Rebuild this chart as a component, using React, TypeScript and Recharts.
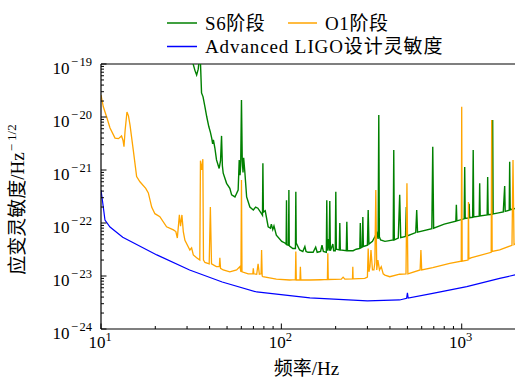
import React from 'react';
import { LineChart, Line, XAxis, YAxis, Legend, ReferenceLine } from 'recharts';

const FONT = '"Liberation Serif", "Noto Sans CJK SC", serif';

// [frequency Hz, strain ASD 1/sqrt(Hz)]
const s6Series: [number, number][] = [
  [30, 3.0e-19], [32.3, 1.05e-19], [33.2, 7.5e-20], [33.9, 6.2e-20], [34.6, 8.0e-20],
  [35.2, 1.4e-19], [35.5, 1.4e-19], [36.1, 2.84e-20], [36.8, 2.4e-20], [37.7, 1.56e-20],
  [38.6, 1.0e-20], [39.6, 6.6e-21], [40.4, 5.2e-21], [41.1, 4.0e-21], [41.6, 3.1e-21],
  [42.0, 3.7e-21], [42.8, 2.6e-21], [43.7, 1.55e-21], [45.2, 1.07e-21], [46.0, 1.5e-21],
  [46.6, 4.4e-21], [47.1, 1.2e-21], [47.6, 8.7e-22], [49.7, 5.6e-22], [51.8, 4.5e-22],
  [53.0, 3.4e-22], [55.3, 3.1e-22], [57.6, 4.2e-22], [58.4, 1.55e-21], [59.0, 8.0e-22],
  [59.5, 1.2e-21], [60.1, 2.1e-20], [60.7, 1.55e-21], [61.3, 9.0e-22], [61.8, 1.7e-21],
  [62.8, 8.8e-22], [64.2, 3.1e-22], [66.9, 2.0e-22], [69.9, 1.76e-22], [72.0, 2.0e-22],
  [74.1, 1.9e-22], [77.6, 1.5e-22], [78.6, 1.4e-22], [79.0, 1.34e-21], [79.5, 1.6e-22],
  [81.4, 1.7e-22], [84.5, 8.5e-23], [87.0, 8.0e-23], [88.0, 9.5e-23], [89.6, 7.5e-23],
  [91.0, 8.8e-23], [93.8, 5.9e-23], [100.5, 4.5e-23], [104.6, 4.2e-23], [106.3, 4.0e-23],
  [106.8, 2.7e-22], [107.3, 3.9e-23], [109.6, 3.8e-23], [110.1, 4.2e-22], [110.6, 3.7e-23],
  [115.8, 3.3e-23], [119.7, 3.3e-23], [120.3, 3.9e-22], [120.9, 4.2e-23], [126.3, 3.1e-23],
  [131.5, 2.9e-23], [135, 3.6e-23], [137, 2.9e-23], [140.6, 2.8e-23], [150, 2.8e-23],
  [155, 3.5e-23], [158, 2.8e-23], [165, 2.9e-23], [168, 3.8e-23], [171, 2.9e-23],
  [177.5, 2.8e-23], [178.6, 2.7e-22], [179.7, 3.0e-23], [182, 5.0e-23], [184, 3.0e-23],
  [185.6, 2.6e-22], [187, 3.0e-23], [193, 4.0e-23], [195, 3.0e-23], [199, 3.0e-23],
  [200.4, 3.9e-22], [201.8, 3.2e-23], [209.5, 3.1e-23], [210.9, 1.0e-22], [212.3, 3.1e-23],
  [229, 3.0e-23], [230.7, 1.05e-22], [232.5, 3.0e-23], [250, 3.0e-23], [260, 3.2e-23],
  [272.3, 3.3e-23], [274, 1.0e-22], [276, 3.4e-23], [281, 3.5e-23], [283, 1.3e-22],
  [285, 3.6e-23], [300, 3.8e-23], [303, 1.76e-22], [306, 4.0e-23], [320, 4.5e-23],
  [330, 5.5e-23], [338, 6.5e-23], [344, 5.0e-23], [346.9, 1.09e-20], [349.5, 5.5e-23],
  [355, 4.8e-23], [375, 4.5e-23], [390, 4.6e-23], [417, 4.8e-23], [420, 2.38e-21],
  [423, 4.8e-23], [445, 5.2e-23], [453, 3.4e-22], [459, 5.3e-23], [488, 5.6e-23],
  [493, 2.0e-22], [498, 5.7e-23], [556, 6.6e-23], [563, 1.76e-22], [569, 6.7e-23],
  [683, 7.8e-23], [691, 2.75e-21], [699, 8.0e-23], [800, 9.5e-23], [928, 1.08e-22],
  [934, 2.2e-22], [940, 1.1e-22], [1032, 1.2e-22], [1039, 1.14e-21], [1046, 1.22e-22],
  [1093, 1.25e-22], [1100, 2.3e-22], [1107, 1.26e-22], [1150, 1.28e-22], [1158, 2.38e-21],
  [1166, 1.3e-22], [1250, 1.35e-22], [1258, 5.6e-22], [1266, 1.36e-22], [1384, 1.42e-22],
  [1393, 7.4e-22], [1402, 1.43e-22], [1476, 1.46e-22], [1485, 8.8e-21], [1494, 1.48e-22],
  [1600, 1.55e-22], [1700, 1.62e-22], [1731, 5.0e-22], [1742, 1.66e-22], [1834, 1.75e-22],
  [1845, 1.43e-21], [1857, 1.78e-22], [2000, 1.9e-22],
];

const o1Series: [number, number][] = [
  [10, 2.6e-20], [10.3, 1.56e-20], [10.75, 1.0e-20], [11.22, 6.2e-21], [11.96, 4.0e-21],
  [12.5, 3.9e-21], [13.0, 4.4e-21], [13.25, 3.6e-21], [13.41, 2.75e-21], [13.6, 5.5e-21],
  [13.93, 1.24e-20], [14.2, 1.05e-20], [14.48, 7.1e-21], [15.1, 2.38e-21], [15.76, 7.5e-22],
  [16.44, 6.0e-22], [17.7, 4.5e-22], [18.3, 3.7e-22], [19.1, 2.0e-22], [19.9, 1.5e-22],
  [21.2, 1.32e-22], [23.1, 8.5e-23], [25.2, 7.4e-23], [26.0, 6.9e-23], [26.5, 5.2e-23],
  [27.2, 1.42e-22], [27.6, 8.7e-23], [28.1, 1.42e-22], [28.6, 6.9e-23], [29.2, 4.7e-23],
  [31.1, 3.1e-23], [31.8, 3.4e-23], [32.5, 2.5e-23], [33.9, 2.2e-23], [35.3, 2.0e-23],
  [35.6, 1.5e-21], [36.2, 1.0e-21], [36.7, 1.6e-21], [37.0, 2.0e-23], [37.7, 1.8e-23],
  [39.8, 1.7e-23], [40.4, 2.0e-22], [41.0, 1.7e-23], [43.6, 1.5e-23], [45.3, 1.5e-23],
  [45.6, 2.2e-23], [46.0, 1.4e-23], [47.6, 1.3e-23], [51.8, 1.2e-23], [56.5, 1.3e-23],
  [58.9, 1.5e-23], [59.7, 1.2e-23], [60.1, 6.5e-22], [60.5, 1.2e-23], [65.5, 1.1e-23],
  [69.5, 1.1e-23], [69.9, 1.4e-23], [70.4, 1.1e-23], [73.0, 1.08e-23], [74.3, 1.7e-23],
  [75.5, 1.08e-23], [77.2, 1.1e-23], [77.7, 3.1e-23], [78.3, 1.0e-23], [79.0, 9.7e-24],
  [93.8, 8.7e-24], [111, 8.4e-24], [119.6, 8.5e-24], [120.3, 2.9e-23], [121, 8.4e-24],
  [126.8, 8.4e-24], [127.5, 1.5e-23], [128.3, 8.4e-24], [144, 8.4e-24], [165, 8.5e-24],
  [180, 8.6e-24], [181, 2.7e-23], [182, 8.6e-24], [215, 8.7e-24], [220, 9.5e-24],
  [225, 8.7e-24], [248, 8.8e-24], [249, 1.5e-23], [250, 8.8e-24], [290, 9.0e-24],
  [300, 9.5e-24], [303, 3.3e-23], [306, 1.2e-23], [310, 1.5e-23], [314, 3.1e-23],
  [320, 1.3e-23], [326, 1.3e-23], [330, 1.8e-23], [334, 4.2e-22], [338, 1.3e-23],
  [343, 2.0e-23], [350, 1.3e-23], [358, 1.5e-23], [367, 1.1e-23], [375, 1.04e-23],
  [399, 9.7e-24], [453, 1.08e-23], [491, 1.1e-23], [497, 5.6e-22], [503, 1.1e-23],
  [588, 1.3e-23], [594, 3.1e-23], [600, 1.3e-23], [691, 1.44e-23], [858, 1.73e-23],
  [994, 1.9e-23], [1000, 1.56e-20], [1006, 1.9e-23], [1084, 2.0e-23], [1090, 2.5e-22],
  [1096, 2.1e-23], [1124, 2.2e-23], [1457, 2.8e-23], [1466, 8.8e-21], [1475, 2.9e-23],
  [1624, 3.1e-23], [1900, 3.8e-23], [1925, 1.55e-21], [1950, 3.9e-23], [2000, 4.1e-23],
];

const aligoSeries: [number, number][] = [
  [10, 4.2e-22], [10.26, 2.2e-22], [10.52, 1.14e-22], [11.22, 8.4e-23], [13.2, 5.4e-23],
  [20.4, 2.5e-23], [31, 1.3e-23], [47, 7.7e-24], [73, 5.0e-24], [144, 3.85e-24],
  [300, 3.4e-24], [453, 3.53e-24], [495, 3.8e-24], [500, 4.8e-24], [505, 3.85e-24],
  [691, 4.7e-24], [1067, 6.3e-24], [1624, 9.0e-24], [2000, 1.06e-23],
];

const seriesNames = ['S6阶段', 'O1阶段', 'Advanced LIGO设计灵敏度'];
const seriesColors = ['#008000', '#FFA500', '#0000FF'];

const xMajorExps = [1, 2, 3];
const yMajorExps = [-24, -23, -22, -21, -20, -19];
const xTicks: number[] = [];
xMajorExps.forEach((e) => {
  for (let m = 1; m <= 9; m++) {
    const v = Number(`${m}e${e}`);
    if (v <= 2000) xTicks.push(v);
  }
});
const yTicks: number[] = [];
yMajorExps.forEach((e) => {
  for (let m = 1; m <= 9; m++) {
    if (e === -19 && m > 1) break;
    yTicks.push(Number(`${m}e${e}`));
  }
});

const toRows = (s: [number, number][]) => s.map(([f, v]) => ({ f, v }));
const s6Data = toRows(s6Series);
const o1Data = toRows(o1Series);
const aligoData = toRows(aligoSeries);

const isMajor = (v: number) => {
  const e = Math.log10(v);
  return Math.abs(e - Math.round(e)) < 1e-6;
};

const XTick = (props: any) => {
  const { x, y, payload } = props;
  const v = payload.value;
  const major = isMajor(v);
  const e = Math.round(Math.log10(v));
  return (
    <g>
      <line x1={x} y1={y} x2={x} y2={y - (major ? 5.5 : 3)} stroke="#000" strokeWidth={1} />
      {major && (
        <text x={x - 1} y={y + 19} textAnchor="middle" fontFamily={FONT} fontSize={17} fill="#000">
          <tspan>10</tspan>
          <tspan dy={-7} fontSize={12.5}>{String(e)}</tspan>
        </text>
      )}
    </g>
  );
};

const YTick = (props: any) => {
  const { x, y, payload } = props;
  const v = payload.value;
  const major = isMajor(v);
  const e = Math.round(Math.log10(v));
  return (
    <g>
      <line x1={x} y1={y} x2={x + (major ? 5.5 : 3)} y2={y} stroke="#000" strokeWidth={1} />
      {major && (
        <text x={x - 9} y={y + 10} textAnchor="end" fontFamily={FONT} fontSize={17} fill="#000">
          <tspan>10</tspan>
          <tspan dy={-8} dx={1.5} fontSize={12.5}>{'\u2212'}</tspan>
          <tspan dx={1.5} fontSize={12.5}>{String(Math.abs(e))}</tspan>
        </text>
      )}
    </g>
  );
};

const XTitle = (props: any) => {
  const vb = props.viewBox || { x: 101, y: 329, width: 415, height: 52 };
  return (
    <text x={vb.x + vb.width / 2 - 2} y={vb.y + 46} textAnchor="middle" fontFamily={FONT} fontSize={19} fill="#000">
      频率/Hz
    </text>
  );
};

const YTitle = (props: any) => {
  const vb = props.viewBox || { x: 0, y: 64, width: 101, height: 265 };
  const cy = vb.y + vb.height / 2 + 3;
  return (
    <text transform={`translate(24,${cy}) rotate(-90)`} textAnchor="middle" fontFamily={FONT} fontSize={19} fill="#000">
      <tspan>应变灵敏度/Hz</tspan>
      <tspan dy={-8} dx={1} fontSize={13}>{'\u2212'}</tspan>
      <tspan dx={3} fontSize={13}>1/2</tspan>
    </text>
  );
};

const LegendBox = () => (
  <svg width={515} height={60} style={{ display: 'block' }}>
    <line x1={167} y1={23} x2={197} y2={23} stroke={seriesColors[0]} strokeWidth={1.5} />
    <text x={205} y={30} fontFamily={FONT} fontSize={19} letterSpacing={0.6} fill="#000">{seriesNames[0]}</text>
    <line x1={288} y1={23} x2={317} y2={23} stroke={seriesColors[1]} strokeWidth={1.5} />
    <text x={325} y={30} fontFamily={FONT} fontSize={19} letterSpacing={0.6} fill="#000">{seriesNames[1]}</text>
    <line x1={167} y1={46.5} x2={197} y2={46.5} stroke={seriesColors[2]} strokeWidth={1.5} />
    <text x={205} y={52.5} fontFamily={FONT} fontSize={19} letterSpacing={0.9} fill="#000">{seriesNames[2]}</text>
  </svg>
);

export default function App() {
  return (
    <div style={{ position: 'absolute', left: 0, top: 0, width: 515, height: 381, overflow: 'hidden', background: '#fff' }}>
      <LineChart width={518} height={381} margin={{ top: 64, right: 2, bottom: 0, left: 0 }}>
        <XAxis
          type="number"
          dataKey="f"
          scale="log"
          domain={[10, 2000]}
          allowDataOverflow
          ticks={xTicks}
          interval={0}
          tickLine={false}
          tickSize={0}
          tickMargin={0}
          tick={<XTick />}
          axisLine={{ stroke: '#000', strokeWidth: 1.2 }}
          height={52}
          label={<XTitle />}
        />
        <YAxis
          type="number"
          dataKey="v"
          scale="log"
          domain={[1e-24, 1e-19]}
          allowDataOverflow
          ticks={yTicks}
          interval={0}
          tickLine={false}
          tickSize={0}
          tickMargin={0}
          tick={<YTick />}
          axisLine={{ stroke: '#000', strokeWidth: 1.2 }}
          width={101}
          label={<YTitle />}
        />
        <ReferenceLine y={1e-19} stroke="#000" strokeWidth={1.2} />
        <ReferenceLine x={2000} stroke="#000" strokeWidth={1.2} />
        <Legend
          layout="horizontal"
          verticalAlign="middle"
          align="center"
          wrapperStyle={{ top: 0, left: 0, width: 515, height: 60 }}
          content={() => <LegendBox />}
        />
        <Line data={s6Data} dataKey="v" name={seriesNames[0]} stroke={seriesColors[0]} strokeWidth={1.4} dot={false} type="linear" isAnimationActive={false} />
        <Line data={o1Data} dataKey="v" name={seriesNames[1]} stroke={seriesColors[1]} strokeWidth={1.3} dot={false} type="linear" isAnimationActive={false} />
        <Line data={aligoData} dataKey="v" name={seriesNames[2]} stroke={seriesColors[2]} strokeWidth={1.2} dot={false} type="linear" isAnimationActive={false} />
      </LineChart>
    </div>
  );
}
